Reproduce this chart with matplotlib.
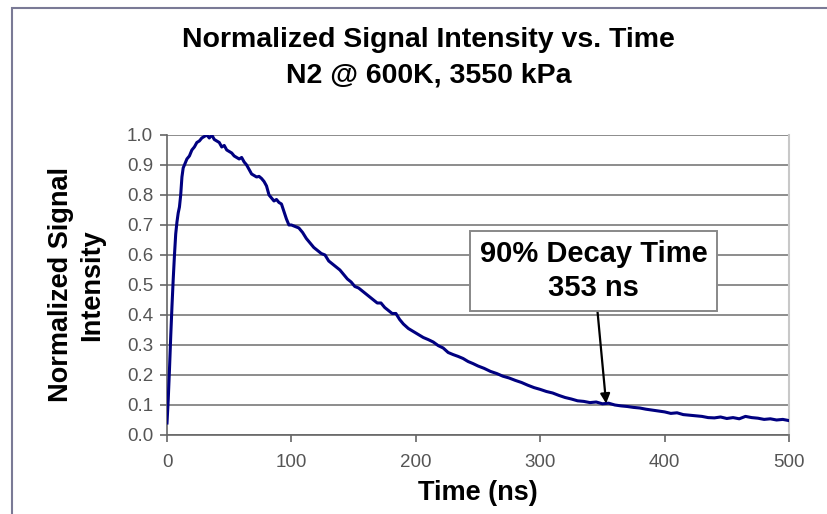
import matplotlib

matplotlib.use("Agg")
import matplotlib.pyplot as plt
from matplotlib.patches import Rectangle

# Signal
time_ns = [0, 1, 2, 3, 4, 5, 6, 7, 8, 9, 10, 11, 12, 13, 14, 16, 18, 20, 22, 24,
           26, 28, 30, 32, 34, 36, 38, 40, 42, 44, 46, 48, 50, 52, 54, 56, 58, 60,
           62, 64, 66, 68, 70, 72, 74, 76, 78, 80, 82, 84, 86, 88, 90, 92, 94, 96,
           98, 100, 103, 106, 109, 112, 115, 118, 121, 124, 127, 130, 133, 136,
           139, 142, 145, 148, 151, 154, 157, 160, 163, 166, 169, 172, 175, 178,
           181, 184, 187, 190, 194, 198, 202, 206, 210, 214, 218, 222, 226, 230,
           234, 238, 242, 246, 250, 255, 260, 265, 270, 275, 280, 285, 290, 295,
           300, 305, 310, 315, 320, 325, 330, 335, 340, 345, 350, 355, 360, 365,
           370, 375, 380, 385, 390, 395, 400, 405, 410, 415, 420, 425, 430, 435,
           440, 445, 450, 455, 460, 465, 470, 475, 480, 485, 490, 495, 500]
intensity = [0.04, 0.12, 0.22, 0.33, 0.43, 0.52, 0.60, 0.67, 0.71, 0.74, 0.76,
             0.80, 0.86, 0.89, 0.90, 0.92, 0.93, 0.95, 0.96, 0.975, 0.98, 0.99,
             0.995, 1.0, 0.99, 1.0, 0.985, 0.98, 0.975, 0.96, 0.965, 0.95, 0.945,
             0.94, 0.93, 0.925, 0.92, 0.925, 0.91, 0.90, 0.885, 0.87, 0.865, 0.86,
             0.862, 0.855, 0.845, 0.83, 0.80, 0.79, 0.78, 0.785, 0.775, 0.77,
             0.745, 0.72, 0.70, 0.70, 0.695, 0.69, 0.675, 0.655, 0.64, 0.625,
             0.615, 0.605, 0.60, 0.58, 0.57, 0.56, 0.55, 0.535, 0.52, 0.51, 0.495,
             0.49, 0.48, 0.47, 0.46, 0.45, 0.44, 0.44, 0.425, 0.415, 0.405, 0.405,
             0.385, 0.37, 0.355, 0.345, 0.335, 0.325, 0.318, 0.31, 0.298, 0.29,
             0.275, 0.268, 0.262, 0.255, 0.245, 0.238, 0.23, 0.222, 0.212, 0.205,
             0.196, 0.19, 0.182, 0.175, 0.166, 0.158, 0.152, 0.145, 0.14, 0.132,
             0.125, 0.12, 0.114, 0.112, 0.108, 0.11, 0.104, 0.106, 0.1, 0.097,
             0.095, 0.092, 0.09, 0.086, 0.083, 0.08, 0.077, 0.072, 0.074, 0.068,
             0.066, 0.064, 0.062, 0.058, 0.057, 0.06, 0.055, 0.058, 0.054, 0.062,
             0.058, 0.056, 0.052, 0.054, 0.05, 0.052, 0.048]

decay_time = 353
decay_value = 0.105
x_ticks = [0, 100, 200, 300, 400, 500]
y_ticks = [0.0, 0.1, 0.2, 0.3, 0.4, 0.5, 0.6, 0.7, 0.8, 0.9, 1.0]

plt.rcParams["font.family"] = ["Liberation Sans", "DejaVu Sans"]

fig = plt.figure(figsize=(8.28, 5.14), dpi=100)
ax = fig.add_axes([0.2017, 0.1537, 0.7512, 0.5837])

# Outer chart frame
fig.patches.append(Rectangle((12 / 828, -0.1), 1.2, 1.1 - 8 / 514, transform=fig.transFigure,
                             fill=False, edgecolor="#7a7a96", linewidth=1.5))

ax.plot(time_ns, intensity, color="#000080", linewidth=2.2, zorder=3)

ax.set_xlim(0, 500)
ax.set_ylim(0, 1.0)
ax.set_xticks(x_ticks)
ax.set_yticks(y_ticks)
ax.set_yticklabels([f"{v:.1f}" for v in y_ticks])
ax.grid(axis="y", color="#8c8c8c", linewidth=1.4, zorder=1)
ax.tick_params(axis="both", direction="out", length=5, width=1.2, color="#666666",
               labelsize=13.5, labelcolor="#555555", pad=5)
ax.tick_params(axis="x", pad=9)
ax.spines["top"].set_visible(False)
ax.spines["right"].set_color("#c8c8c8")
ax.spines["right"].set_linewidth(1.5)
ax.spines["left"].set_color("#666666")
ax.spines["bottom"].set_color("#666666")
ax.spines["left"].set_linewidth(1.2)
ax.spines["bottom"].set_linewidth(1.2)

ax.set_xlabel("Time (ns)", fontsize=19.5, fontweight="bold", labelpad=6)
ax.set_ylabel("Normalized Signal\nIntensity", fontsize=19.5, fontweight="bold",
              linespacing=1.25)
ax.yaxis.set_label_coords(-0.1, 0.5)

fig.text(0.518, 0.922, "Normalized Signal Intensity vs. Time", ha="center", va="center",
         fontsize=20.5, fontweight="bold")
fig.text(0.518, 0.853, "N2 @ 600K, 3550 kPa", ha="center", va="center",
         fontsize=20.5, fontweight="bold")

ax.annotate("90% Decay Time\n353 ns", xy=(decay_time, decay_value), xytext=(343, 0.547),
            ha="center", va="center", fontsize=21, fontweight="bold", linespacing=1.25,
            bbox=dict(boxstyle="square,pad=0.32", facecolor="white", edgecolor="#888888",
                      linewidth=1.4),
            arrowprops=dict(arrowstyle="-|>", color="black", linewidth=1.6,
                            mutation_scale=14, shrinkA=0, shrinkB=0),
            zorder=4)

fig.savefig("out.png", dpi=100)
